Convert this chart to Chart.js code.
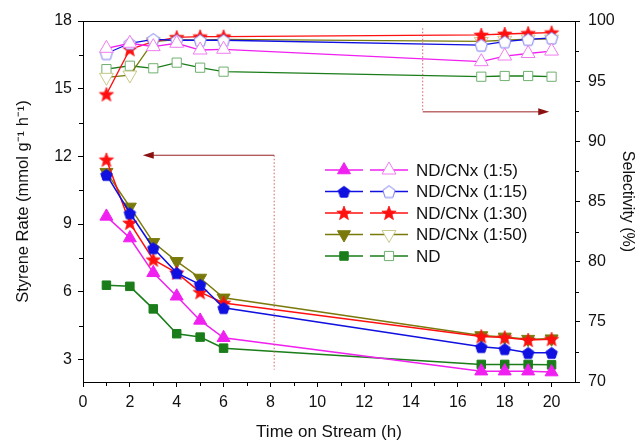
<!DOCTYPE html>
<html><head><meta charset="utf-8">
<script src="https://cdn.jsdelivr.net/npm/chart.js@4/dist/chart.umd.min.js"></script>
<style>html,body{margin:0;padding:0;background:#fff}#wrap{width:639px;height:443px;position:relative}</style>
</head><body><div id="wrap"><canvas id="c"></canvas></div>
<script>
// ---- data ----
const time = [1, 2, 3, 4, 5, 6, 17, 18, 19, 20];
const seriesNames = ['ND/CNx (1:5)', 'ND/CNx (1:15)', 'ND/CNx (1:30)', 'ND/CNx (1:50)', 'ND'];
const rate_1_5  = [9.34, 8.38, 6.84, 5.80, 4.73, 3.96, 2.48, 2.48, 2.48, 2.44];
const rate_1_15 = [11.19, 9.49, 7.94, 6.84, 6.32, 5.29, 3.56, 3.47, 3.30, 3.30];
const rate_1_30 = [11.85, 9.05, 7.42, 6.84, 5.98, 5.50, 4.02, 3.97, 3.86, 3.90];
const rate_1_50 = [11.30, 9.76, 8.19, 7.35, 6.61, 5.73, 4.06, 4.00, 3.90, 3.92];
const rate_ND   = [6.29, 6.24, 5.24, 4.14, 3.99, 3.50, 2.78, 2.78, 2.78, 2.76];
const sel_1_5  = [97.73, 98.15, 97.87, 98.15, 97.59, 97.65, 96.62, 97.09, 97.30, 97.50];
const sel_1_15 = [97.30, 98.15, 98.48, 98.40, 98.40, 98.40, 98.00, 98.28, 98.48, 98.60];
const sel_1_30 = [93.90, 97.65, 98.28, 98.64, 98.70, 98.70, 98.84, 98.92, 98.98, 99.03];
const sel_1_50 = [95.32, 95.51, 98.28, 98.45, 98.40, 98.48, 98.30, 98.40, 98.50, 98.50];
const sel_ND   = [96.00, 96.28, 96.07, 96.54, 96.12, 95.79, 95.37, 95.43, 95.43, 95.37];
const xTicks = [0, 2, 4, 6, 8, 10, 12, 14, 16, 18, 20];
const xMinor = [1, 3, 5, 7, 9, 11, 13, 15, 17, 19];
const rateTicks = [3, 6, 9, 12, 15, 18];
const rateMinor = [4.5, 7.5, 10.5, 13.5, 16.5];
const selTicks = [70, 75, 80, 85, 90, 95, 100];
const selMinor = [72.5, 77.5, 82.5, 87.5, 92.5, 97.5];
// arrow annotations (data units)
const leftArrow = {x: 8.16, yTop: 12.05, yBottom: 2.55, xTip: 2.55};
const rightArrow = {x: 14.5, yTop: 99.4, yBottom: 92.45, xTip: 19.9};

// ---- marker shapes ----
function shapeCanvas(kind, r, fill, stroke, lw) {
  const s = Math.ceil(2 * r + lw + 2);
  const c = document.createElement('canvas');
  c.width = s; c.height = s;
  const g = c.getContext('2d');
  const cx = s / 2, cy = s / 2 + (kind === 'pent' ? 0.8 : 0.5);
  g.beginPath();
  if (kind === 'pent') {
    for (let i = 0; i < 5; i++) {
      const a = -Math.PI / 2 + i * 2 * Math.PI / 5;
      g.lineTo(cx + r * Math.cos(a), cy + r * Math.sin(a));
    }
  } else {
    for (let i = 0; i < 10; i++) {
      const a = -Math.PI / 2 + i * Math.PI / 5;
      const rr = i % 2 === 0 ? r : r * 0.42;
      g.lineTo(cx + rr * Math.cos(a), cy + rr * Math.sin(a));
    }
  }
  g.closePath();
  g.fillStyle = fill; g.fill();
  g.lineWidth = lw; g.strokeStyle = stroke; g.stroke();
  return c;
}

const C = {
  pink: '#f020f0', pinkL: '#f07cf0',
  blue: '#1010e0', blueL: '#7a7af0',
  red: '#ff1010',
  olive: '#7a7a0c', oliveL: '#c8c888',
  green: '#1a7d1a', greenL: '#70b070'
};

const pentFilled = shapeCanvas('pent', 6, C.blue, C.blue, 1);
const pentOpen = shapeCanvas('pent', 6.5, '#fff', C.blueL, 1);
const starFilled = shapeCanvas('star', 7.5, C.red, C.red, 0.8);

const pts = (arr) => arr.map((v, i) => ({x: time[i], y: v}));

const filledSpec = [
  {data: rate_1_5, color: C.pink, style: 'triangle', radius: 7.5, rot: 0},
  {data: rate_1_15, color: C.blue, style: pentFilled, radius: 6, rot: 0},
  {data: rate_1_30, color: C.red, style: starFilled, radius: 7, rot: 0},
  {data: rate_1_50, color: C.olive, style: 'triangle', radius: 7.5, rot: 180},
  {data: rate_ND, color: C.green, style: 'rect', radius: 6, rot: 0}
];
const openSpec = [
  {data: sel_1_5, color: C.pink, mcolor: C.pinkL, style: 'triangle', radius: 8, rot: 0, fill: '#fff'},
  {data: sel_1_15, color: C.blue, mcolor: C.blueL, style: pentOpen, radius: 7, rot: 0, fill: '#fff'},
  {data: sel_1_30, color: C.red, mcolor: C.red, style: starFilled, radius: 7, rot: 0, fill: C.red},
  {data: sel_1_50, color: C.olive, mcolor: C.oliveL, style: 'triangle', radius: 8, rot: 180, fill: '#fff'},
  {data: sel_ND, color: C.green, mcolor: C.greenL, style: 'rect', radius: 6.5, rot: 0, fill: '#fff'}
];

const datasets = [];
openSpec.forEach((s, i) => datasets.push({
  label: seriesNames[i] + ' selectivity', data: pts(s.data), yAxisID: 'y1',
  borderColor: s.color, borderWidth: 1.3, backgroundColor: s.fill,
  pointStyle: s.style, pointRadius: s.radius, pointRotation: s.rot,
  pointBackgroundColor: s.fill, pointBorderColor: s.mcolor, pointBorderWidth: 1,
  tension: 0
}));
filledSpec.forEach((s, i) => datasets.push({
  label: seriesNames[i] + ' rate', data: pts(s.data), yAxisID: 'y',
  borderColor: s.color, borderWidth: 1.5, backgroundColor: s.color,
  pointStyle: s.style, pointRadius: s.radius, pointRotation: s.rot,
  pointBackgroundColor: s.color, pointBorderColor: s.color, pointBorderWidth: 1,
  tension: 0
}));

const FONT = 'Arial, "Liberation Sans", sans-serif';

const extras = {
  id: 'extras',
  afterDraw(chart) {
    const {ctx, chartArea: a, scales} = chart;
    const sx = scales.x, sy = scales.y, sy1 = scales.y1;
    ctx.save();
    ctx.strokeStyle = '#000'; ctx.lineWidth = 1;
    // frame top
    ctx.beginPath(); ctx.moveTo(a.left, a.top + 0.5); ctx.lineTo(a.right, a.top + 0.5); ctx.stroke();
    // minor ticks
    ctx.beginPath();
    xMinor.forEach(v => { const p = Math.round(sx.getPixelForValue(v)) + 0.5; ctx.moveTo(p, a.bottom); ctx.lineTo(p, a.bottom + 4); });
    rateMinor.forEach(v => { const p = Math.round(sy.getPixelForValue(v)) + 0.5; ctx.moveTo(a.left, p); ctx.lineTo(a.left - 4, p); });
    selMinor.forEach(v => { const p = Math.round(sy1.getPixelForValue(v)) + 0.5; ctx.moveTo(a.right, p); ctx.lineTo(a.right + 4, p); });
    ctx.stroke();

    // arrows
    const arrowHead = (x, y, dir) => {
      ctx.beginPath();
      ctx.moveTo(x, y); ctx.lineTo(x - dir * 11, y - 3.5); ctx.lineTo(x - dir * 11, y + 3.5); ctx.closePath();
      ctx.fillStyle = '#8b1010'; ctx.fill();
    };
    // left arrow
    let px = sx.getPixelForValue(leftArrow.x);
    let pyT = sy.getPixelForValue(leftArrow.yTop), pyB = sy.getPixelForValue(leftArrow.yBottom);
    ctx.strokeStyle = '#d06060'; ctx.setLineDash([1.5, 2]); ctx.lineWidth = 1;
    ctx.beginPath(); ctx.moveTo(px, pyT); ctx.lineTo(px, pyB); ctx.stroke();
    ctx.setLineDash([]); ctx.strokeStyle = '#9a2020';
    let tip = sx.getPixelForValue(leftArrow.xTip);
    ctx.beginPath(); ctx.moveTo(px, pyT); ctx.lineTo(tip + 8, pyT); ctx.stroke();
    arrowHead(tip, pyT, -1);
    // right arrow
    px = sx.getPixelForValue(rightArrow.x);
    pyT = sy1.getPixelForValue(rightArrow.yTop); pyB = sy1.getPixelForValue(rightArrow.yBottom);
    ctx.strokeStyle = '#d06060'; ctx.setLineDash([1.5, 2]);
    ctx.beginPath(); ctx.moveTo(px, pyT); ctx.lineTo(px, pyB); ctx.stroke();
    ctx.setLineDash([]); ctx.strokeStyle = '#9a2020';
    tip = sx.getPixelForValue(rightArrow.xTip);
    ctx.beginPath(); ctx.moveTo(px, pyB); ctx.lineTo(tip - 8, pyB); ctx.stroke();
    arrowHead(tip, pyB, 1);

    // legend
    const lx = 325, ly = 170, dy = 21.5;
    seriesNames.forEach((name, i) => {
      const y = ly + i * dy;
      const f = filledSpec[i], o = openSpec[i];
      ctx.strokeStyle = f.color; ctx.lineWidth = 1.5;
      ctx.beginPath(); ctx.moveTo(lx, y); ctx.lineTo(lx + 38, y); ctx.stroke();
      ctx.strokeStyle = o.color; ctx.lineWidth = 1.3;
      ctx.beginPath(); ctx.moveTo(lx + 45, y); ctx.lineTo(lx + 83, y); ctx.stroke();
      ctx.font = '17px ' + FONT; ctx.fillStyle = '#111'; ctx.textBaseline = 'middle'; ctx.textAlign = 'left';
      ctx.fillText(name, lx + 91, y + 1);
      ctx.fillStyle = f.color; ctx.strokeStyle = f.color; ctx.lineWidth = 1;
      Chart.helpers.drawPoint(ctx, {pointStyle: f.style, radius: f.radius, rotation: f.rot, borderWidth: 1}, lx + 19, y);
      ctx.fillStyle = o.fill; ctx.strokeStyle = o.mcolor; ctx.lineWidth = 1;
      Chart.helpers.drawPoint(ctx, {pointStyle: o.style, radius: o.radius, rotation: o.rot, borderWidth: 1}, lx + 64, y);
    });
    ctx.restore();
  }
};

new Chart(document.getElementById('c'), {
  type: 'line',
  data: {datasets},
  options: {
    responsive: true, maintainAspectRatio: false, animation: false,
    layout: {padding: {top: 21, left: 0, right: 0, bottom: 0}},
    plugins: {legend: {display: false}, tooltip: {enabled: false}},
    scales: {
      x: {
        type: 'linear', position: 'bottom', min: 0, max: 21,
        afterBuildTicks: s => { s.ticks = xTicks.map(v => ({value: v})); },
        afterFit: s => { s.height = 61; },
        grid: {drawOnChartArea: false, drawTicks: true, tickLength: 5, color: '#000'},
        border: {display: true, color: '#000', width: 1},
        ticks: {color: '#111', font: {family: FONT, size: 16}, padding: 6, maxRotation: 0},
        title: {display: true, text: 'Time on Stream (h)', color: '#111', font: {family: FONT, size: 17}, padding: {top: 0, bottom: 0}}
      },
      y: {
        type: 'linear', position: 'left', min: 2, max: 18,
        afterBuildTicks: s => { s.ticks = rateTicks.map(v => ({value: v})); },
        afterFit: s => { s.width = 83; },
        grid: {drawOnChartArea: false, drawTicks: true, tickLength: 5, color: '#000'},
        border: {display: true, color: '#000', width: 1},
        ticks: {color: '#111', font: {family: FONT, size: 16}, padding: 6},
        title: {display: true, text: 'Styrene Rate (mmol g⁻¹ h⁻¹)', color: '#111', font: {family: FONT, size: 16.5}, padding: {top: 14, bottom: 0}}
      },
      y1: {
        type: 'linear', position: 'right', min: 70, max: 100,
        afterBuildTicks: s => { s.ticks = selTicks.map(v => ({value: v})); },
        afterFit: s => { s.width = 64; },
        grid: {drawOnChartArea: false, drawTicks: true, tickLength: 5, color: '#000'},
        border: {display: true, color: '#000', width: 1},
        ticks: {color: '#111', font: {family: FONT, size: 16}, padding: 8},
        title: {display: true, text: 'Selectivity (%)', color: '#111', font: {family: FONT, size: 16}, padding: {top: 1.5, bottom: 0}}
      }
    }
  },
  plugins: [extras]
});
</script>
</body></html>
